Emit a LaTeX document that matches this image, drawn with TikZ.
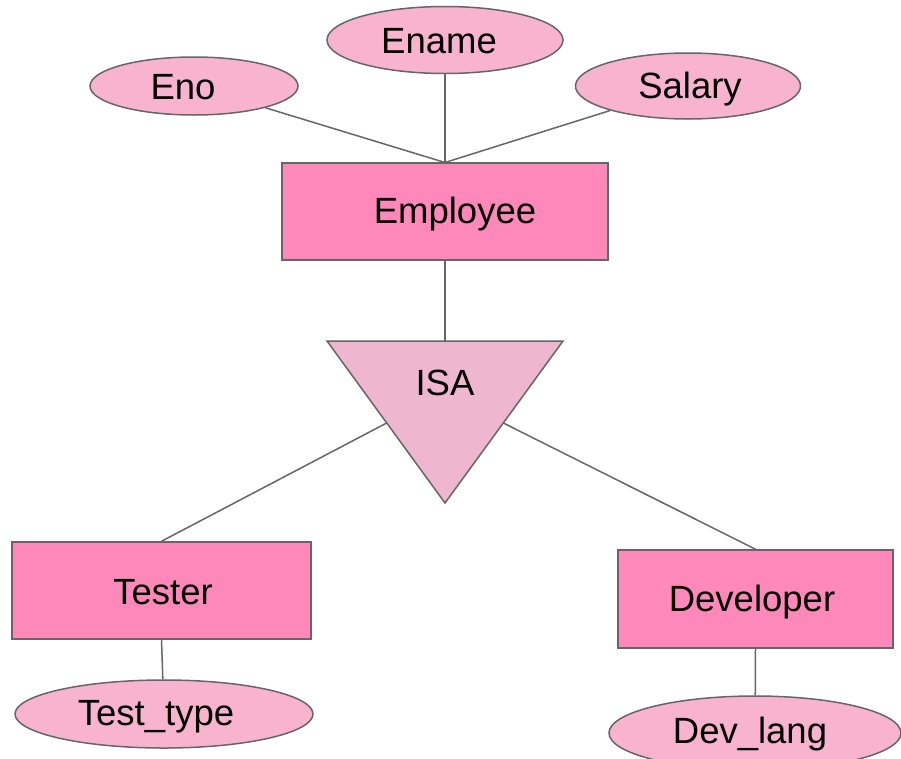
\documentclass[tikz,border=0pt]{standalone}
\usepackage{fontspec}
\setmainfont{Liberation Sans}
\usetikzlibrary{shapes.geometric,calc}
\definecolor{entfill}{HTML}{FF88BB}
\definecolor{attfill}{HTML}{F8B3CF}
\definecolor{isafill}{HTML}{EEB6CF}
\definecolor{edge}{HTML}{666666}
\tikzset{
  every node/.style={font=\fontsize{36.5}{42}\selectfont, text=black},
  entity/.style={draw=edge, line width=1.5pt, fill=entfill, rectangle, inner sep=0pt},
  attr/.style={draw=edge, line width=1.5pt, fill=attfill, ellipse, inner sep=0pt},
  conn/.style={draw=edge, line width=1.5pt},
  txt/.style args={#1/#2/#3}{label={[xshift=#1pt, yshift=#2pt, inner sep=0pt]center:#3}},
}
\begin{document}
\begin{tikzpicture}[x=1pt,y=-1pt]
\useasboundingbox (0,0) rectangle (901,758);
% attributes of Employee
\node[attr, minimum width=208pt, minimum height=58pt, txt={-11/-1/Eno}] (eno) at (194,86) {};
\node[attr, minimum width=236pt, minimum height=67pt, txt={-6/-1/Ename}] (ename) at (445,40) {};
\node[attr, minimum width=225pt, minimum height=66pt, txt={2/-3/Salary}] (salary) at (688,86) {};
% Employee
\node[entity, minimum width=326pt, minimum height=97pt, txt={10/-3/Employee}] (emp) at (445,211.5) {};
% ISA triangle
\coordinate (tl) at (327,341);
\coordinate (tr) at (563,341);
\coordinate (tb) at (445,503);
\draw[conn, fill=isafill, line join=miter] (tl) -- (tr) -- (tb) -- cycle;
\node (isa) at (445,383) {ISA};
\coordinate (isatop) at (445,341);
\coordinate (isaleft) at ($(tl)!0.506!(tb)$);
\coordinate (isaright) at ($(tr)!0.506!(tb)$);
% subclasses
\node[entity, minimum width=299pt, minimum height=97pt, txt={1.5/-2/Tester}] (tester) at (161.5,590.5) {};
\node[entity, minimum width=275pt, minimum height=98pt, txt={-3.5/-3/Developer}] (dev) at (755.5,599) {};
\node[attr, minimum width=298pt, minimum height=68pt, txt={-8/-3/Test\_type}] (ttype) at (164,714) {};
\node[attr, minimum width=292pt, minimum height=74pt, txt={-5/-1/Dev\_lang}] (dlang) at (755,733) {};
% connectors
\coordinate (emptop) at (445,162.5);
\draw[conn] (eno) -- (emptop);
\draw[conn] (ename) -- (emptop);
\draw[conn] (salary) -- (emptop);
\draw[conn] (emp.south) -- (isatop);
\draw[conn] (isaleft) -- (tester.north);
\draw[conn] (isaright) -- (dev.north);
\draw[conn] (tester.south) -- (ttype);
\draw[conn] (dev.south) -- (dlang);
\end{tikzpicture}
\end{document}
